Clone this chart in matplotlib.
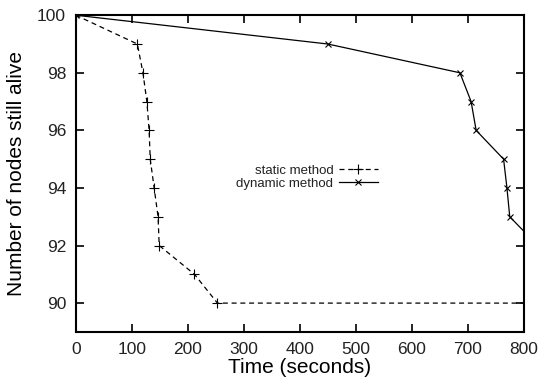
"""Nodes still alive over time: static vs dynamic method"""

import matplotlib.pyplot as plt

plt.rcParams['font.family'] = ['Liberation Sans', 'DejaVu Sans']
plt.rcParams['text.color'] = '#222222'
plt.rcParams['xtick.labelcolor'] = '#222222'
plt.rcParams['ytick.labelcolor'] = '#222222'

# static method data
static_time = [0, 110, 120, 127, 131, 133, 140, 147, 149, 212, 253, 800]
static_alive = [100, 99, 98, 97, 96, 95, 94, 93, 92, 91, 90, 90]

# dynamic method data
dynamic_time = [0, 450, 686, 706, 715, 764, 770, 775, 825]
dynamic_alive = [100, 99, 98, 97, 96, 95, 94, 93, 92]

fig = plt.figure(figsize=(5.45, 3.9), dpi=100)
ax = fig.add_axes([0.139, 0.149, 0.822, 0.812])

# markers only at the real data points (not the end of the flat line)
ax.plot(static_time, static_alive, color="black", linestyle=(0, (4, 3)), linewidth=0.9,
        marker="+", markersize=7, markeredgewidth=0.8, markevery=list(range(11)),
        label="static method")
ax.plot(dynamic_time, dynamic_alive, color="black", linestyle="-", linewidth=0.9,
        marker="x", markersize=5, markeredgewidth=0.8, markevery=list(range(8)),
        label="dynamic method")

ax.set_xlim(0, 800)
ax.set_ylim(89, 100)
ax.set_xticks(range(0, 801, 100))
ax.set_yticks(range(90, 101, 2))
ax.tick_params(direction="in", top=True, right=True, length=6, width=1.2,
               labelsize=12.5, pad=7)
for s in ax.spines.values():
    s.set_linewidth(1.5)

ax.set_xlabel("Time (seconds)", fontsize=15, labelpad=1)
ax.set_ylabel("Number of nodes still alive", fontsize=15, labelpad=8)

ax.legend(loc="upper right", bbox_to_anchor=(0.69, 0.55), frameon=False,
          markerfirst=False, fontsize=9.5, handlelength=3.0, handletextpad=0.4,
          labelspacing=0.1, borderpad=0)

fig.savefig("out.png", dpi=100)
